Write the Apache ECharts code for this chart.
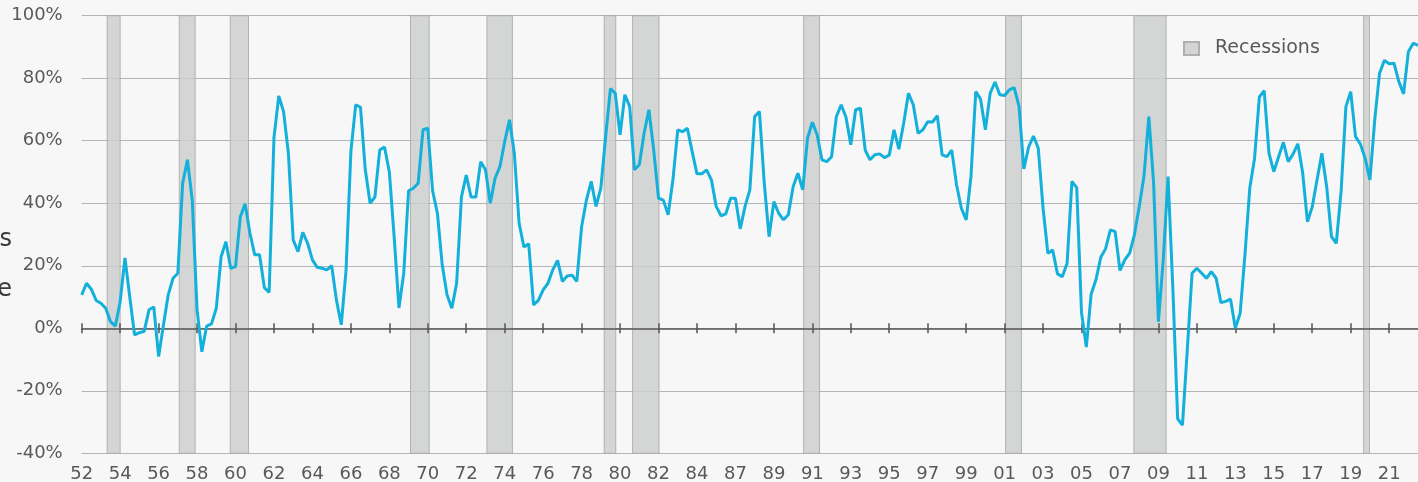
<!DOCTYPE html>
<html>
<head>
<meta charset="utf-8">
<title>Recessions</title>
<script src="https://cdn.jsdelivr.net/npm/echarts@6/dist/echarts.min.js"></script>
<style>
  html, body { margin: 0; padding: 0; background: #f7f7f7; }
  #chart { width: 1418px; height: 482px; }
</style>
</head>
<body>
<div id="chart"></div>
<script>
// axis labels, one every 8 quarters (the source skips from 84 to 87)
var tickLabels = ['52', '54', '56', '58', '60', '62', '64', '66', '68', '70', '72', '74',
  '76', '78', '80', '82', '84', '87', '89', '91', '93', '95', '97', '99',
  '01', '03', '05', '07', '09', '11', '13', '15', '17', '19', '21'];

// quarterly values, %
var values = [
  10.7, 14.4, 12.5, 8.9, 8.0, 6.4, 2.1, 0.7, 8.5, 22.5,
  10, -2.1, -1.4, -1, 5.9, 6.8, -9, 1, 10.7, 16,
  17.6, 46.4, 53.9, 41, 5.9, -7.5, 0.7, 1.4, 6.4, 22.9,
  27.7, 19.2, 19.7, 35.7, 39.8, 30.4, 23.5, 23.5, 13, 11.5,
  61, 74.3, 69.3, 56, 28.3, 24.5, 30.7, 27.2, 21.9, 19.5,
  19.2, 18.7, 20, 9, 1.1, 18.7, 56.5, 71.5, 70.7, 50.7,
  40, 42, 57, 58, 50, 29.3, 6.5, 17.6, 44, 44.8,
  46.4, 63.5, 64, 44, 36.8, 20.3, 10.7, 6.4, 14.4, 42,
  49, 42, 42, 53.3, 50.7, 40, 48, 51.7, 59.7, 66.7,
  56, 33.6, 26, 27, 7.5, 8.9, 12.3, 14.4, 18.7, 21.7,
  15, 16.7, 17, 15, 32.5, 41, 47, 39, 44.8, 61.3,
  76.7, 75.2, 61.9, 74.7, 71, 50.7, 52.3, 62.4, 69.9, 57,
  41.6, 41, 36.3, 47.5, 63.5, 62.9, 64, 56.5, 49.4, 49.4,
  50.7, 47.5, 39, 36, 36.6, 41.6, 41.6, 31.8, 39, 44.3,
  67.7, 69.3, 46.4, 29.3, 40.5, 36.8, 34.7, 36.3, 45.3, 49.6,
  44.3, 60.8, 65.9, 61.9, 53.9, 53.3, 54.9, 67.7, 71.5, 67.5,
  58.7, 69.9, 70.4, 57, 53.9, 55.5, 55.8, 54.6, 55.4, 63.5,
  57.3, 65.6, 75.2, 71.5, 62.4, 63.5, 66.1, 66, 68, 55.5,
  54.9, 57, 45.9, 38.4, 34.7, 48.5, 75.7, 73.3, 63.5, 75.2,
  78.8, 74.7, 74.5, 76.3, 77, 71, 51, 58, 61.5, 57.6,
  38.4, 24, 25, 17.4, 16.5, 20.8, 47, 45, 5, -6,
  10.9, 15.5, 22.7, 25.4, 31.5, 30.9, 18.5, 21.9, 24, 29.9,
  38.9, 48.7, 67.7, 46.4, 2.1, 21.9, 48.5, 12.8, -29, -31,
  -7, 17.6, 19.2, 17.6, 16, 18.1, 16, 8.2, 8.6, 9.3,
  0, 4.8, 23.5, 44.8, 54.4, 74, 76, 56, 50.1, 54.9,
  59.5, 53.3, 55.7, 59, 49.8, 34.1, 38.9, 47.5, 56, 45.3,
  29.3, 27.2, 43.7, 70.9, 75.7, 61.3, 59, 54.4, 47.5, 66.7,
  81.6, 85.7, 84.6, 84.8, 79, 75, 88.5, 91.2, 90.5
];

// recession spans, in quarters from the first period
var recessions = [
  [5.3, 8.0], [20.3, 23.6], [30.9, 34.7], [68.4, 72.3], [84.3, 89.6],
  [108.7, 111.1], [114.6, 120.1], [150.2, 153.5], [192.2, 195.5],
  [218.9, 225.6], [266.7, 267.9]
];

var yMin = -40, yMax = 100, yStep = 20;

// one category per quarter, named after its tick label
var periods = values.map(function (v, i) {
  var lab = tickLabels[Math.floor(i / 8)];
  return i % 8 === 0 ? lab : lab + '.' + (i % 8);
});

var font = 'DejaVu Sans';
var labelColor = '#595959';
var bandFill = 'rgba(204,205,205,0.82)';
var bandStroke = 'rgba(168,168,168,0.85)';

var chart = echarts.init(document.getElementById('chart'));

var option = {
  animation: false,
  backgroundColor: '#f7f7f7',
  grid: {
    left: 81.7,
    right: 0,
    top: 15.7,
    bottom: 28.7,
    containLabel: false,
    outerBoundsMode: 'none'
  },
  legend: {
    left: 1178,
    top: 34,
    selectedMode: false,
    itemWidth: 15,
    itemHeight: 13,
    data: [{ name: 'Recessions', icon: 'rect' }],
    textStyle: {
      color: labelColor,
      fontSize: 19,
      fontFamily: font,
      padding: [0, 0, 0, 11]
    }
  },
  graphic: [
    // y title, almost all of it is outside the picture
    {
      type: 'text', x: 12, y: 240, silent: true,
      style: { text: 'Businesses', align: 'right', verticalAlign: 'middle',
        font: '24px "DejaVu Sans"', fill: '#3a3a3a' }
    },
    {
      type: 'text', x: 12, y: 290, silent: true,
      style: { text: 'Increase', align: 'right', verticalAlign: 'middle',
        font: '24px "DejaVu Sans"', fill: '#3a3a3a' }
    }
  ],
  xAxis: [
    // labels at the bottom
    {
      type: 'category',
      data: periods,
      boundaryGap: false,
      position: 'bottom',
      axisLine: { show: false, onZero: false },
      axisTick: { show: false },
      splitLine: { show: false },
      axisLabel: {
        interval: 7,
        margin: 12,
        color: labelColor,
        fontSize: 18,
        fontFamily: font,
        formatter: function (v) { return v.split('.')[0]; }
      }
    },
    // zero line with ticks below it
    {
      type: 'category',
      data: periods,
      boundaryGap: false,
      position: 'bottom',
      z: 5,
      axisLine: { onZero: true, onZeroAxisIndex: 0, lineStyle: { color: '#555', width: 1.5 } },
      axisTick: { interval: 7, length: 5, lineStyle: { color: '#555', width: 1.5 } },
      axisLabel: { show: false },
      splitLine: { show: false }
    },
    // same ticks above the zero line
    {
      type: 'category',
      data: periods,
      boundaryGap: false,
      position: 'bottom',
      z: 5,
      axisLine: { show: false, onZero: true, onZeroAxisIndex: 0 },
      axisTick: { inside: true, interval: 7, length: 5, lineStyle: { color: '#555', width: 1.5 } },
      axisLabel: { show: false },
      splitLine: { show: false }
    },
    // hidden value axis for the recession bands
    {
      type: 'value',
      min: 0,
      max: values.length - 1,
      show: false
    }
  ],
  yAxis: {
    type: 'value',
    min: yMin,
    max: yMax,
    interval: yStep,
    axisLine: { show: false },
    axisTick: { show: false },
    axisLabel: {
      margin: 19,
      color: labelColor,
      fontSize: 18,
      fontFamily: font,
      formatter: '{value}%'
    },
    splitLine: { lineStyle: { color: '#b4b4b4', width: 1 } }
  },
  series: [
    {
      name: 'Recessions',
      type: 'custom',
      xAxisIndex: 3,
      yAxisIndex: 0,
      z: 2,
      silent: true,
      itemStyle: { color: '#d4d5d5', borderColor: '#b0b0b0', borderWidth: 1 },
      encode: { x: [0, 1] },
      data: recessions,
      renderItem: function (params, api) {
        var p0 = api.coord([api.value(0), yMax]);
        var p1 = api.coord([api.value(1), yMin]);
        return {
          type: 'rect',
          shape: { x: p0[0], y: p0[1], width: p1[0] - p0[0], height: p1[1] - p0[1] },
          style: { fill: bandFill, stroke: bandStroke, lineWidth: 1 }
        };
      }
    },
    {
      name: 'Value',
      type: 'line',
      xAxisIndex: 0,
      yAxisIndex: 0,
      z: 10,
      data: values,
      showSymbol: false,
      silent: true,
      lineStyle: { color: '#12b0da', width: 3 }
    }
  ]
};

chart.setOption(option);
</script>
</body>
</html>
